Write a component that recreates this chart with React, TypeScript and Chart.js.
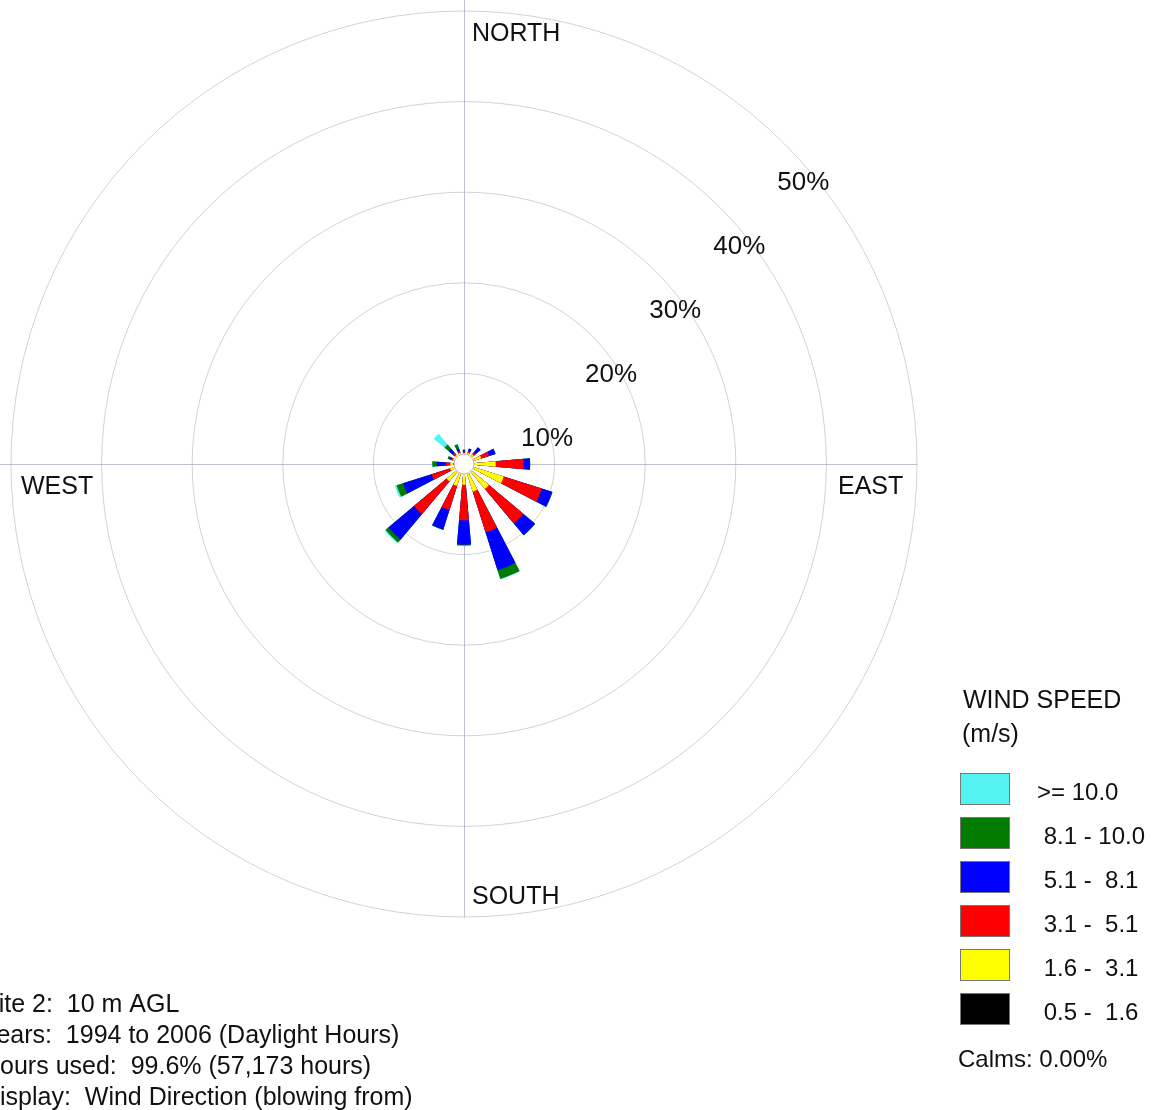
import React, { useEffect, useRef } from 'react';
import { Chart, registerables } from 'chart.js';

Chart.register(...registerables);

// 16 compass directions (wind blowing from), clockwise from north
const directions = ['N', 'NNE', 'NE', 'ENE', 'E', 'ESE', 'SE', 'SSE', 'S', 'SSW', 'SW', 'WSW', 'W', 'WNW', 'NW', 'NNW'];

// Frequency (%) of each speed class per direction
const speed05to16 = [1.1, 1.1, 1.1, 1.1, 1.1, 1.1, 1.1, 1.0, 1.0, 1.0, 1.0, 1.0, 1.2, 1.1, 1.1, 1.1];
const speed16to31 = [0.1, 0.2, 0.3, 0.9, 2.4, 3.5, 2.5, 2.2, 1.3, 1.55, 1.5, 0.6, 0.3, 0.2, 0.2, 0.2];
const speed31to51 = [0.1, 0.2, 0.3, 0.9, 3.1, 4.4, 4.95, 4.7, 3.9, 2.8, 4.7, 2.15, 0.5, 0.2, 0.3, 0.2];
const speed51to81 = [0.2, 0.3, 0.7, 0.75, 0.7, 1.2, 1.7, 4.4, 2.7, 2.25, 3.7, 3.3, 1.0, 0.2, 0.6, 0.3];
const speed81to100 = [0.1, 0.0, 0.0, 0.0, 0.0, 0.05, 0.0, 1.0, 0.1, 0.05, 0.4, 0.75, 0.5, 0.2, 0.6, 0.5];
const speedOver10 = [0.0, 0.0, 0.0, 0.0, 0.0, 0.0, 0.0, 0.05, 0.0, 0.0, 0.15, 0.2, 0.0, 0.0, 1.55, 0.0];

// Speed classes from slowest to fastest
const speedSeries = [speed05to16, speed16to31, speed31to51, speed51to81, speed81to100, speedOver10];
const speedLabels = [' 0.5 -  1.6', ' 1.6 -  3.1', ' 3.1 -  5.1', ' 5.1 -  8.1', ' 8.1 - 10.0', '>= 10.0'];
const speedColors = ['#000000', '#FFFF00', '#FF0000', '#0000FF', '#007A00', '#55F2F2'];

// Ring ticks (%)
const ringTicks = [10, 20, 30, 40, 50];
const compassLabels = ['NORTH', 'EAST', 'SOUTH', 'WEST'];
const legendTitle = ['WIND SPEED', '(m/s)'];
const calmsText = 'Calms: 0.00%';
const infoLines = [
  'Site 2:  10 m AGL',
  'Years:  1994 to 2006 (Daylight Hours)',
  'Hours used:  99.6% (57,173 hours)',
  'Display:  Wind Direction (blowing from)',
];

const BAR_ANGLE = 10; // degrees of each petal
const FONT = '"Liberation Sans", Arial, Helvetica, sans-serif';

export default function App() {
  const canvasRef = useRef<HTMLCanvasElement | null>(null);

  useEffect(() => {
    const canvas = canvasRef.current;
    if (!canvas) return;

    // labels with gap slots between petals
    const labels: string[] = [];
    directions.forEach((d) => {
      labels.push(d);
      labels.push('');
    });

    // cumulative stacks, smallest first (dataset 0 is drawn on top)
    const datasets = speedSeries.map((_, k) => {
      const data: number[] = [];
      directions.forEach((_, i) => {
        let sum = 0;
        for (let j = 0; j <= k; j++) sum += speedSeries[j][i];
        data.push(sum);
        data.push(0);
      });
      return {
        label: speedLabels[k],
        data,
        backgroundColor: speedColors[k],
        borderWidth: 0,
        angle: (ctx: any) => (ctx.dataIndex % 2 === 0 ? BAR_ANGLE : 22.5 - BAR_ANGLE),
      };
    });

    const decor = {
      id: 'decor',
      beforeDatasetsDraw(chart: any) {
        const ctx = chart.ctx;
        const s = chart.scales.r;
        const cx = s.xCenter;
        const cy = s.yCenter;
        const R = s.drawingArea;
        ctx.save();
        ctx.strokeStyle = 'rgba(170,170,200,0.75)';
        ctx.lineWidth = 1;
        ctx.beginPath();
        ctx.moveTo(cx + 0.5, 0);
        ctx.lineTo(cx + 0.5, cy + R);
        ctx.moveTo(0, cy + 0.5);
        ctx.lineTo(cx + R, cy + 0.5);
        ctx.stroke();
        ctx.restore();
      },
      afterDatasetsDraw(chart: any) {
        const ctx = chart.ctx;
        const s = chart.scales.r;
        ctx.save();
        ctx.beginPath();
        ctx.arc(s.xCenter, s.yCenter, 10, 0, Math.PI * 2);
        ctx.fillStyle = '#ffffff';
        ctx.fill();
        ctx.strokeStyle = '#bbbbbb';
        ctx.lineWidth = 1;
        ctx.stroke();
        ctx.restore();
      },
      afterDraw(chart: any) {
        const ctx = chart.ctx;
        const s = chart.scales.r;
        const cx = s.xCenter;
        const cy = s.yCenter;
        const R = s.drawingArea;
        ctx.save();
        ctx.fillStyle = '#111111';
        ctx.textBaseline = 'middle';
        ctx.textAlign = 'left';
        ctx.font = `25px ${FONT}`;
        // compass labels
        ctx.fillText(compassLabels[0], cx + 8, cy - R + 23);
        ctx.fillText(compassLabels[2], cx + 8, cy + R - 20);
        ctx.fillText(compassLabels[3], cx - R + 10, cy + 23);
        ctx.fillText(compassLabels[1], cx + R - 79, cy + 23);

        // ring labels
        ctx.font = `26px ${FONT}`;
        ctx.textAlign = 'center';
        ringTicks.forEach((v) => {
          const r = s.getDistanceFromCenterForValue(v);
          ctx.fillText(`${v}%`, cx + r * Math.SQRT1_2 + 19, cy - r * Math.SQRT1_2 + 39);
        });

        // legend
        ctx.textAlign = 'left';
        ctx.textBaseline = 'alphabetic';
        ctx.font = `25px ${FONT}`;
        ctx.fillText(legendTitle[0], 963, 708);
        ctx.fillText(legendTitle[1], 962, 742);
        ctx.font = `24px ${FONT}`;
        for (let i = 0; i < speedLabels.length; i++) {
          const k = speedLabels.length - 1 - i;
          const top = 773 + 44 * i;
          ctx.fillStyle = speedColors[k];
          ctx.fillRect(960, top, 50, 32);
          ctx.strokeStyle = '#777777';
          ctx.lineWidth = 1;
          ctx.strokeRect(960.5, top + 0.5, 49, 31);
          ctx.fillStyle = '#111111';
          ctx.fillText(speedLabels[k], 1037, top + 27);
        }
        ctx.fillText(calmsText, 958, 1067);

        // info text
        ctx.font = `25px ${FONT}`;
        infoLines.forEach((line, i) => {
          ctx.fillText(line, -18, 1012 + 31 * i);
        });
        ctx.restore();
      },
    };

    const chart = new Chart(canvas, {
      type: 'polarArea',
      data: { labels, datasets: datasets as any },
      options: {
        responsive: false,
        animation: false,
        events: [],
        layout: { padding: { left: 11, top: 11, right: 240, bottom: 193 } },
        plugins: {
          legend: { display: false },
          tooltip: { enabled: false },
        },
        scales: {
          r: {
            min: 0,
            max: 50,
            startAngle: -BAR_ANGLE / 2,
            ticks: { display: false, stepSize: 10 },
            grid: { circular: true, color: '#d2d2d2', lineWidth: 1 },
            angleLines: { display: false },
            pointLabels: { display: false },
          },
        },
      } as any,
      plugins: [decor],
    });

    return () => chart.destroy();
  }, []);

  return (
    <div style={{ position: 'absolute', left: 0, top: 0, width: 1157, height: 1110, background: '#ffffff' }}>
      <canvas ref={canvasRef} width={1157} height={1110} style={{ display: 'block' }} />
    </div>
  );
}
